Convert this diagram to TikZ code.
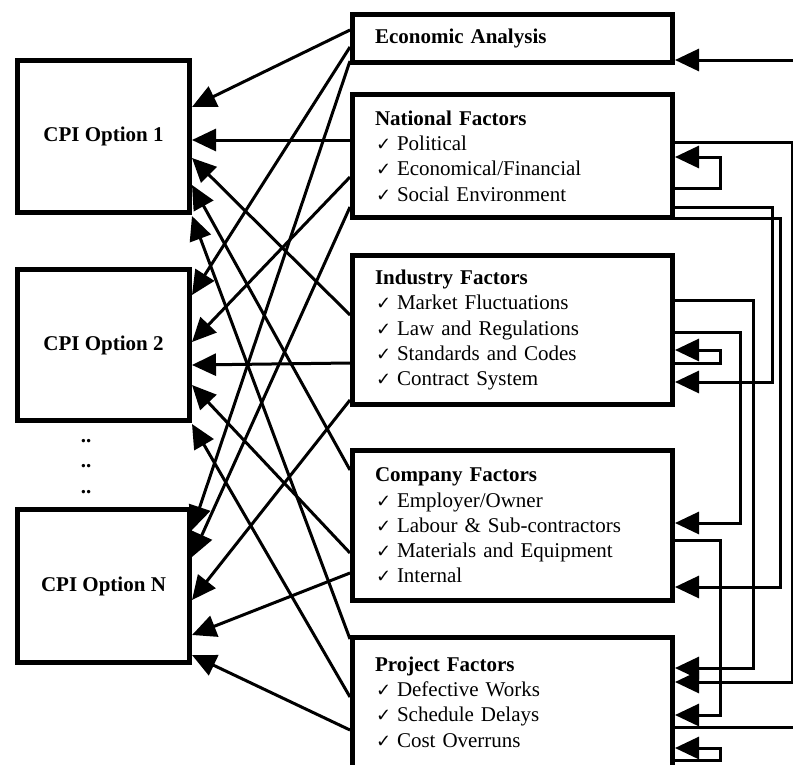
\documentclass[tikz,border=0pt]{standalone}
\usepackage{fontspec}
\setmainfont{Liberation Serif}
\newfontfamily\checkfont{DejaVu Sans}
\usetikzlibrary{arrows.meta}
\newcommand{\chk}{\makebox[22pt][l]{\hspace{1pt}\checkfont\fontsize{18}{18}\selectfont ✓}}

\begin{document}
\begin{tikzpicture}[x=1pt,y=-1pt,
    cpi/.style={draw,line width=5pt,minimum width=172pt,minimum height=152pt,
      font=\fontsize{21}{25.3}\selectfont\bfseries},
    factor/.style={draw,line width=5pt,minimum width=320pt,text width=275pt,
      inner xsep=22.5pt,align=left,font=\fontsize{21}{25.3}\selectfont},
    link/.style={line width=3pt,-{Triangle[length=24pt,width=22pt]}},
    wire/.style={line width=3pt}]
      \useasboundingbox (0,0) rectangle (793,764);
      \draw
        (103.5,136.5) node[cpi] (cpi1){CPI Option 1}
        (103.5,345) node[cpi,minimum height=151pt] (cpi2){CPI Option 2}
        (103.5,586) node[cpi,minimum height=153pt] (cpin){CPI Option N};
      \foreach \y [count=\i] in {442,467,493}
        \node[font=\fontsize{21}{21}\selectfont\bfseries,anchor=base] (dots\i) at (86,\y) {..};
      \draw
        (512.5,38) node[factor,minimum height=48pt] (eco){\textbf{Economic Analysis}}
        (512.5,156) node[factor,minimum height=123pt] (nat){\textbf{National Factors}\\
          \chk Political\\\chk Economical/Financial\\\chk Social Environment}
        (512.5,330) node[factor,minimum height=149pt] (ind){\textbf{Industry Factors}\\
          \chk Market Fluctuations\\\chk Law and Regulations\\
          \chk Standards and Codes\\\chk Contract System}
        (512.5,525.5) node[factor,minimum height=150pt] (com){\textbf{Company Factors}\\
          \chk Employer/Owner\\\chk Labour \& Sub-contractors\\
          \chk Materials and Equipment\\\chk Internal}
        (512.5,702) node[factor,minimum height=130pt] (prj){\textbf{Project Factors}\\
          \chk Defective Works\\\chk Schedule Delays\\\chk Cost Overruns};
      \coordinate (ecoin) at (796,60);
      \coordinate (prjout) at (796,727);
      \begin{scope}[link]
        \draw (eco.west |- 0,30) to (cpi1.east |- 0,107);
        \draw (eco.west |- 0,47) to (cpi2.east |- 0,295);
        \draw (eco.west |- 0,61) to (cpin.east |- 0,530);
        \draw (nat.west |- 0,140) to (cpi1.east |- 0,140);
        \draw (nat.west |- 0,177) to (cpi2.east |- 0,342);
        \draw (nat.west |- 0,207) to (cpin.east |- 0,557);
        \draw (ind.west |- 0,315) to (cpi1.east |- 0,158);
        \draw (ind.west |- 0,363) to (cpi2.east |- 0,365);
        \draw (ind.west |- 0,400) to (cpin.east |- 0,600);
        \draw (com.west |- 0,470) to (cpi1.east |- 0,185);
        \draw (com.west |- 0,553) to (cpi2.east |- 0,385);
        \draw (com.west |- 0,573) to (cpin.east |- 0,635);
        \draw (prj.west |- 0,639) to (cpi1.east |- 0,216);
        \draw (prj.west |- 0,697) to (cpi2.east |- 0,424);
        \draw (prj.west |- 0,730) to (cpin.east |- 0,655);
      \end{scope}
      \begin{scope}[link]
        \draw (ecoin) to (eco.east |- 0,60);
        \draw (nat.east |- 0,142) -- ++(117,0) |- (prj.east |- 0,682);
        \draw (nat.east |- 0,188) -- ++(45,0) |- (nat.east |- 0,157);
        \draw (nat.east |- 0,207) -- ++(97,0) |- (ind.east |- 0,382);
        \draw (nat.east |- 0,218) -- ++(105,0) |- (com.east |- 0,587);
        \draw (ind.east |- 0,300) -- ++(78,0) |- (prj.east |- 0,668);
        \draw (ind.east |- 0,332) -- ++(65,0) |- (com.east |- 0,523);
        \draw (ind.east |- 0,363) -- ++(45,0) |- (ind.east |- 0,350);
        \draw (com.east |- 0,540) -- ++(45,0) |- (prj.east |- 0,715);
        \draw (prj.east |- 0,760) -- ++(45,0) |- (prj.east |- 0,748);
      \end{scope}
      \draw[wire] (prj.east |- 0,727) -- (prjout);
    \end{tikzpicture}
\end{document}
